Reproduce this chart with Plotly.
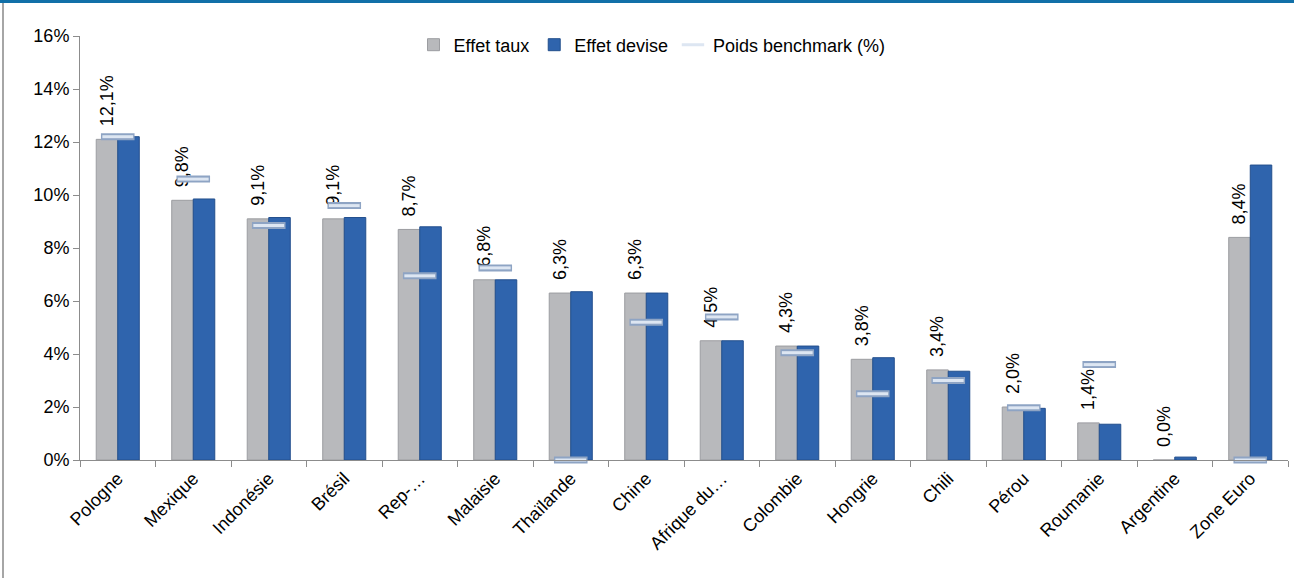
import plotly.graph_objects as go

categories = ["Pologne", "Mexique", "Indonésie", "Brésil", "Rep-…", "Malaisie", "Thaïlande",
              "Chine", "Afrique du…", "Colombie", "Hongrie", "Chili", "Pérou", "Roumanie",
              "Argentine", "Zone Euro"]
effet_taux = [12.1, 9.8, 9.1, 9.1, 8.7, 6.8, 6.3, 6.3, 4.5, 4.3, 3.8, 3.4, 2.0, 1.4, 0.0, 8.4]
effet_devise = [12.2, 9.85, 9.15, 9.15, 8.8, 6.8, 6.35, 6.3, 4.5, 4.3, 3.86, 3.35, 1.95, 1.35, 0.11, 11.13]
poids_benchmark = [12.2, 10.6, 8.85, 9.6, 6.95, 7.25, 0.0, 5.2, 5.4, 4.05, 2.5, 3.0, 1.97, 3.6, None, 0.0]
taux_labels = ["\u00a0\u00a0" + f"{v:.1f}%".replace(".", ",") for v in effet_taux]

FONT = "Liberation Sans, Arial, sans-serif"

fig = go.Figure()
fig.add_trace(go.Bar(
    x=categories, y=effet_taux, name="Effet taux",
    marker=dict(color="#b8b9bc", line=dict(color="#9c9da1", width=1)),
    text=taux_labels, textposition="outside", textangle=-90,
    textfont=dict(size=18, color="#000000", family=FONT),
    constraintext="none", cliponaxis=False,
))
fig.add_trace(go.Bar(
    x=categories, y=effet_devise, name="Effet devise",
    marker=dict(color="#2f64ad", line=dict(color="#234f8d", width=1)),
))
# benchmark markers: darker outline under a lighter core
fig.add_trace(go.Scatter(
    x=categories, y=poids_benchmark, mode="markers", name="Poids benchmark (%)",
    legendgroup="bm", showlegend=False, cliponaxis=False,
    marker=dict(symbol="line-ew", size=24, line=dict(color="#8ea4c4", width=7)),
))
fig.add_trace(go.Scatter(
    x=categories, y=poids_benchmark, mode="markers", name="Poids benchmark (%)",
    legendgroup="bm", cliponaxis=False,
    marker=dict(symbol="line-ew", size=22, line=dict(color="#dde6f2", width=3)),
))

W, H = 1294, 578
ml, mr, mt, mb = 80, 6, 36, 118
pw, ph = W - ml - mr, H - mt - mb

def px(xp):
    return (xp - ml) / pw

def py(yp):
    return (H - mb - yp) / ph

fig.update_layout(
    width=W, height=H,
    margin=dict(l=ml, r=mr, t=mt, b=mb, autoexpand=False),
    paper_bgcolor="white", plot_bgcolor="white",
    barmode="group", bargap=0.43, bargroupgap=0.0,
    font=dict(family=FONT, size=18, color="#000000"),
    legend=dict(orientation="h", x=px(652), xanchor="center", y=py(45), yanchor="middle",
                font=dict(size=18, family=FONT), bgcolor="rgba(0,0,0,0)",
                itemwidth=30, tracegroupgap=0),
    xaxis=dict(range=[-0.5, len(categories) - 0.5], autorange=False,
               showline=True, linecolor="#8c8c8c", linewidth=1, ticks="outside",
               tickson="boundaries", ticklen=6, tickcolor="#8c8c8c", tickangle=-45,
               tickfont=dict(size=18, family=FONT), showgrid=False),
    yaxis=dict(range=[0, 16], dtick=2, tickformat=".0f", ticksuffix="%",
               showline=True, linecolor="#8c8c8c", linewidth=1, ticks="outside",
               ticklen=6, tickcolor="#8c8c8c", showgrid=False, zeroline=False,
               tickfont=dict(size=18, family=FONT)),
    shapes=[
        dict(type="rect", xref="paper", yref="paper", x0=px(0), x1=px(W), y0=py(0), y1=py(3),
             fillcolor="#1170a8", line=dict(width=0), layer="above"),
        dict(type="line", xref="paper", yref="paper", x0=px(3), x1=px(3), y0=py(3), y1=py(H),
             line=dict(color="#a6a6a6", width=2), layer="above"),
    ],
)

fig.write_html("out.html", config={"displayModeBar": False},
               post_script="document.body.style.margin='0';")
